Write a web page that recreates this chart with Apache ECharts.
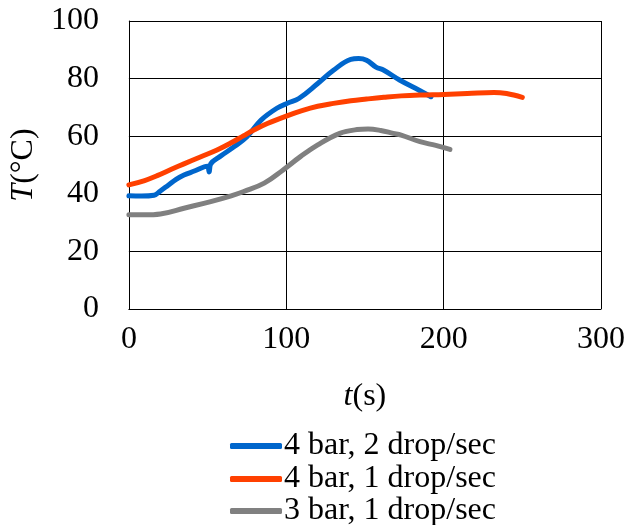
<!DOCTYPE html>
<html>
<head>
<meta charset="utf-8">
<script src="https://cdn.jsdelivr.net/npm/echarts@6/dist/echarts.min.js"></script>
<style>
  html, body { margin: 0; padding: 0; background: #fff; }
  #chart { width: 636px; height: 525px; }
</style>
</head>
<body>
<div id="chart"></div>
<script>
// series names
var seriesNames = ['4 bar, 2 drop/sec', '4 bar, 1 drop/sec', '3 bar, 1 drop/sec'];

// 4 bar, 2 drop/sec
var tBlue = [0, 8, 16, 20, 25, 30, 35, 42, 48, 50, 51, 52, 58, 67, 75, 84, 94, 101, 108, 120, 130, 141, 146, 151, 157, 162, 172, 185, 192];
var TBlue = [39.3, 39.2, 39.5, 41, 43, 45, 46.5, 48, 49.4, 49.6, 47.6, 50.4, 53, 56.4, 59.8, 65.6, 69.7, 71.5, 73.1, 78.3, 82.9, 86.7, 87, 86.4, 84, 82.9, 79.5, 75.8, 73.7];

// 4 bar, 1 drop/sec
var tOrange = [0, 10, 18, 27, 35, 45, 56, 65, 73, 80, 88, 100, 110, 120, 130, 141, 151, 162, 173, 185, 200, 215, 232, 240, 250];
var TOrange = [43.1, 44.6, 46.3, 48.5, 50.4, 52.7, 55.2, 57.7, 60.2, 62.3, 64.4, 67.0, 68.9, 70.4, 71.4, 72.3, 72.9, 73.5, 74.0, 74.3, 74.5, 74.8, 75.2, 74.8, 73.5];

// 3 bar, 1 drop/sec
var tGray = [0, 10, 20, 35, 52, 65, 73, 86, 98, 109, 120, 134, 145, 152, 160, 168, 173, 185, 195, 204];
var TGray = [32.7, 32.7, 33.0, 35.0, 37.3, 39.3, 40.8, 43.7, 48.3, 52.9, 57.0, 61.0, 62.3, 62.5, 62.0, 61.0, 60.4, 58.1, 56.8, 55.4];

var xTicks = [0, 100, 200, 300];
var yTicks = [0, 20, 40, 60, 80, 100];

var colors = ['#0066cc', '#ff4000', '#808080'];
var legendTops = [430, 463, 495];

function pairs(xs, ys) {
  var out = [];
  for (var i = 0; i < xs.length; i++) out.push([xs[i], ys[i]]);
  return out;
}

var font = '"Liberation Serif", "Times New Roman", serif';
var fs = 32;
var myChart = echarts.init(document.getElementById('chart'));

function makeSeries(idx, xs, ys) {
  return {
    name: seriesNames[idx],
    type: 'line',
    data: pairs(xs, ys),
    smooth: 0.4,
    showSymbol: false,
    symbol: 'none',
    lineStyle: { color: colors[idx], width: 5, cap: 'round', join: 'round' },
    itemStyle: { color: colors[idx] },
    animation: false
  };
}

// one legend block per row so the rows sit where they do in the figure
var legends = [];
for (var i = 0; i < seriesNames.length; i++) {
  legends.push({
    left: 230,
    top: legendTops[i],
    padding: 0,
    itemWidth: 52,
    itemHeight: 6,
    icon: 'roundRect',
    selectedMode: false,
    textStyle: { fontFamily: font, fontSize: fs, color: '#000', padding: [0, 0, 0, -3] },
    data: [seriesNames[i]]
  });
}

var option = {
  animation: false,
  grid: { left: 128, right: 35, top: 21, bottom: 216, containLabel: false },
  xAxis: {
    type: 'value',
    min: xTicks[0],
    max: xTicks[xTicks.length - 1],
    interval: 100,
    name: '{i|t}(s)',
    nameLocation: 'middle',
    nameGap: 72,
    nameTextStyle: {
      fontFamily: font, fontSize: fs, color: '#000',
      rich: { i: { fontFamily: font, fontSize: fs, fontStyle: 'italic', color: '#000' } }
    },
    axisLine: { show: true, lineStyle: { color: '#000', width: 1 } },
    axisTick: { show: false },
    axisLabel: { margin: 15, fontFamily: font, fontSize: fs, color: '#000' },
    splitLine: { show: true, lineStyle: { color: '#000', width: 1 } }
  },
  yAxis: {
    type: 'value',
    min: yTicks[0],
    max: yTicks[yTicks.length - 1],
    interval: 20,
    name: '{i|T}(°C)',
    nameLocation: 'middle',
    nameRotate: 90,
    nameGap: 83,
    nameTextStyle: {
      fontFamily: font, fontSize: fs, color: '#000',
      rich: { i: { fontFamily: font, fontSize: fs, fontStyle: 'italic', color: '#000' } }
    },
    axisLine: { show: true, lineStyle: { color: '#000', width: 1 } },
    axisTick: { show: false },
    axisLabel: { margin: 30, fontFamily: font, fontSize: fs, color: '#000' },
    splitLine: { show: true, lineStyle: { color: '#000', width: 1 } }
  },
  legend: legends,
  series: [
    makeSeries(0, tBlue, TBlue),
    makeSeries(1, tOrange, TOrange),
    makeSeries(2, tGray, TGray)
  ]
};

myChart.setOption(option);
</script>
</body>
</html>
